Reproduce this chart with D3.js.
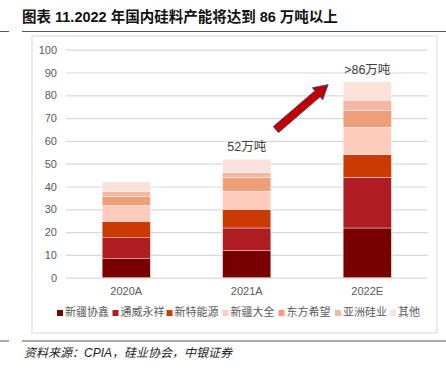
<!DOCTYPE html>
<html>
<head>
<meta charset="utf-8">
<script src="https://cdn.jsdelivr.net/npm/d3@7"></script>
<style>
  body { margin: 0; background: #fff; }
  svg { display: block; }
</style>
</head>
<body>
<div id="chart"></div>
<script>
// data (万吨)
const years = ['2020A', '2021A', '2022E']
const companies = ['新疆协鑫', '通威永祥', '新特能源', '新疆大全', '东方希望', '亚洲硅业', '其他']
const xinjiangGCL = [8.3, 11.9, 21.8]
const tongweiYongxiang = [9.2, 9.9, 22.2]
const xinteEnergy = [7.2, 8.2, 10]
const xinjiangDaqo = [7.0, 7.9, 12]
const eastHope = [4.0, 6.1, 7.2]
const asiaSilicon = [2.2, 2.1, 4.7]
const others = [4.1, 5.9, 8.1]
const yTicks = [0, 10, 20, 30, 40, 50, 60, 70, 80, 90, 100]
const colors = ['#780000', '#AF1C21', '#CB3A02', '#FFCBBD', '#EF9E7A', '#F4B7A4', '#FBE2DB']
const totalLabels = ['', '52万吨', '>86万吨']

const width = 446, height = 377
const plot = { left: 66, right: 427.5, top: 49.7, bottom: 277.7 }

const svg = d3.select('#chart').append('svg')
    .attr('width', width)
    .attr('height', height)

const cjk = '"Liberation Sans", Arial, "Noto Sans CJK SC", sans-serif'

// title + rules
svg.append('text')
    .attr('x', 22).attr('y', 22)
    .attr('font-family', cjk)
    .attr('font-weight', 'bold')
    .attr('font-size', 14.5)
    .attr('fill', '#111')
    .text('图表 11.2022 年国内硅料产能将达到 86 万吨以上')
svg.append('line').attr('x1', 0).attr('x2', 9).attr('y1', 31.5).attr('y2', 31.5).attr('stroke', '#555')
svg.append('line').attr('x1', 22).attr('x2', 446).attr('y1', 31.5).attr('y2', 31.5).attr('stroke', '#555')
svg.append('line').attr('x1', 0).attr('x2', 9).attr('y1', 341).attr('y2', 341).attr('stroke', '#555')
svg.append('line').attr('x1', 22).attr('x2', 446).attr('y1', 341).attr('y2', 341).attr('stroke', '#555')

// chart frame
svg.append('rect')
    .attr('x', 32).attr('y', 36)
    .attr('width', 405).attr('height', 297)
    .attr('fill', 'none').attr('stroke', '#d9d9d9')

// source note
svg.append('text')
    .attr('x', 24).attr('y', 357)
    .attr('font-family', cjk)
    .attr('font-style', 'italic')
    .attr('font-size', 12)
    .attr('fill', '#222')
    .text('资料来源：CPIA，硅业协会，中银证券')

// scales
const xScale = d3.scaleBand().domain(years).range([plot.left, plot.right]).paddingInner(0.6).paddingOuter(0.3)
const yScale = d3.scaleLinear().domain([0, 100]).range([plot.bottom, plot.top])

// gridlines + y axis
const yAxis = svg.append('g')
    .attr('transform', 'translate(' + plot.left + ',0)')
    .call(d3.axisLeft(yScale).tickValues(yTicks).tickSize(-(plot.right - plot.left)).tickPadding(9))
yAxis.select('.domain').remove()
yAxis.selectAll('.tick line').attr('stroke', '#d9d9d9').attr('stroke-width', 1.2)
yAxis.selectAll('.tick text')
    .attr('font-family', '"Liberation Sans", Arial, sans-serif')
    .attr('font-size', 11)
    .attr('fill', '#595959')

// x axis
const xAxis = svg.append('g')
    .attr('transform', 'translate(0,' + plot.bottom + ')')
    .call(d3.axisBottom(xScale).tickSize(0).tickPadding(10))
xAxis.select('.domain').remove()
xAxis.selectAll('.tick text')
    .attr('font-family', '"Liberation Sans", Arial, sans-serif')
    .attr('font-size', 11)
    .attr('fill', '#595959')

// stacked bars
const seriesValues = [xinjiangGCL, tongweiYongxiang, xinteEnergy, xinjiangDaqo, eastHope, asiaSilicon, others]
const rows = years.map((y, i) => {
    let row = { year: y }
    companies.forEach((c, j) => { row[c] = seriesValues[j][i] })
    return row
})
const stacked = d3.stack().keys(companies)(rows)

svg.append('g').selectAll('g')
    .data(stacked)
    .join('g')
    .attr('fill', (d, i) => colors[i])
    .selectAll('rect')
    .data(d => d)
    .join('rect')
    .attr('x', d => xScale(d.data.year))
    .attr('y', d => yScale(d[1]))
    .attr('width', xScale.bandwidth())
    .attr('height', d => yScale(d[0]) - yScale(d[1]))
    .attr('stroke', '#fff')
    .attr('stroke-width', 0.4)

// totals
const totals = years.map((y, i) => d3.sum(seriesValues, s => s[i]))
svg.append('g').selectAll('text')
    .data(years)
    .join('text')
    .attr('x', d => xScale(d) + xScale.bandwidth() / 2)
    .attr('y', (d, i) => yScale(totals[i]) - 8)
    .attr('text-anchor', 'middle')
    .attr('font-family', cjk)
    .attr('font-size', 12.5)
    .attr('fill', '#404040')
    .text((d, i) => totalLabels[i])

// growth arrow between 2021A and 2022E
const a0 = [xScale('2021A') + xScale.bandwidth() + 5, yScale(totals[1]) - 29.5]
const a1 = [xScale('2022E') - 15, yScale(totals[2]) + 3]
const ang = Math.atan2(a1[1] - a0[1], a1[0] - a0[0])
const len = Math.hypot(a1[0] - a0[0], a1[1] - a0[1])
const shaft = 4, head = 8, headLen = 14
const arrowPts = [
    [0, -shaft], [len - headLen, -shaft], [len - headLen, -head], [len, 0],
    [len - headLen, head], [len - headLen, shaft], [0, shaft]
]
svg.append('path')
    .attr('d', d3.line()(arrowPts) + 'Z')
    .attr('transform', 'translate(' + a0[0] + ',' + a0[1] + ') rotate(' + (ang * 180 / Math.PI) + ')')
    .attr('fill', '#C00000')
    .attr('stroke', '#2F528F')
    .attr('stroke-width', 0.8)

// legend
const legendX = [57, 112.5, 166.5, 222.5, 278.5, 335, 390]
const legend = svg.append('g').selectAll('g')
    .data(companies)
    .join('g')
    .attr('transform', (d, i) => 'translate(' + legendX[i] + ',316)')
legend.append('rect')
    .attr('x', 0).attr('y', -6)
    .attr('width', 6).attr('height', 6)
    .attr('fill', (d, i) => colors[i])
legend.append('text')
    .attr('x', 8).attr('y', 0)
    .attr('font-family', cjk)
    .attr('font-size', 11)
    .attr('fill', '#595959')
    .text(d => d)
</script>
</body>
</html>
